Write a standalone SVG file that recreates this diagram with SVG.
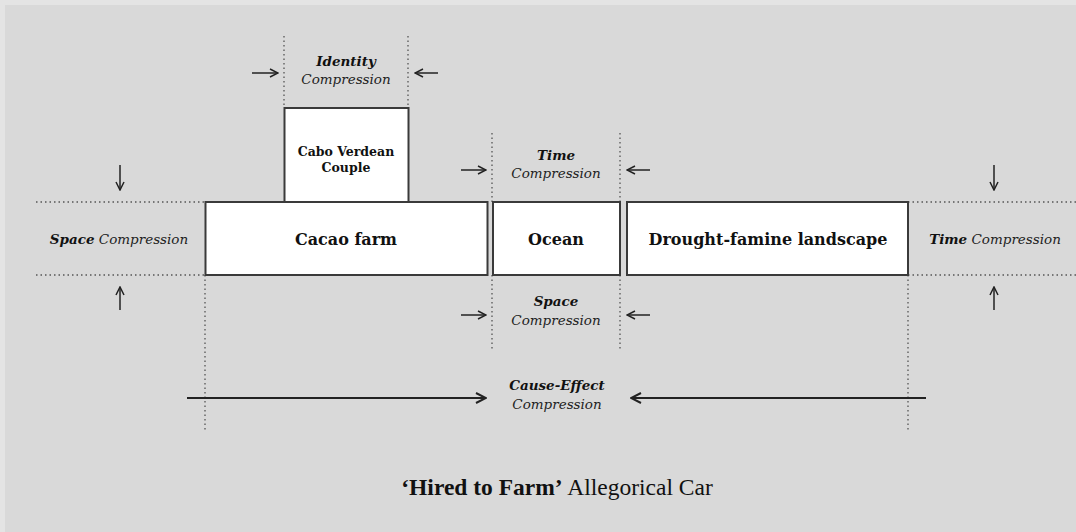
<svg xmlns="http://www.w3.org/2000/svg" width="1076" height="532" viewBox="0 0 1076 532">
<defs>
<style>
.box{fill:#fff;stroke:#3a3a3a;stroke-width:2}
.dot{fill:none;stroke:#555;stroke-width:1.3;stroke-dasharray:1.5 3}
.arr{fill:none;stroke:#222;stroke-width:1.5}
.lbl{font-family:"DejaVu Serif","Liberation Serif",serif;font-weight:bold;fill:#111;text-anchor:middle}
.bi{font-family:"DejaVu Serif","Liberation Serif",serif;font-weight:bold;font-style:italic;fill:#111}
.it{font-family:"DejaVu Serif","Liberation Serif",serif;font-style:italic;fill:#222}
.c{text-anchor:middle}
.title{font-family:"Liberation Serif",serif;font-size:23.5px;fill:#111;text-anchor:middle}
</style>
<marker id="ah" viewBox="0 0 10 10" refX="9" refY="5" markerWidth="10" markerHeight="10" markerUnits="userSpaceOnUse" orient="auto">
<path d="M1,1 L9,5 L1,9" fill="none" stroke="#222" stroke-width="1.5"/>
</marker>
<marker id="ahL" viewBox="0 0 12 12" refX="11" refY="6" markerWidth="12" markerHeight="12" markerUnits="userSpaceOnUse" orient="auto">
<path d="M1,1 L11,6 L1,11" fill="none" stroke="#222" stroke-width="2"/>
</marker>
</defs>
<rect x="0" y="0" width="1076" height="532" fill="#e4e4e4"/>
<rect x="5" y="5" width="1071" height="527" fill="#d9d9d9"/>

<g id="guides">
<line class="dot" x1="36" y1="202" x2="205" y2="202"/>
<line class="dot" x1="36" y1="275" x2="205" y2="275"/>
<line class="dot" x1="908" y1="202" x2="1076" y2="202"/>
<line class="dot" x1="908" y1="275" x2="1076" y2="275"/>
<line class="dot" x1="284" y1="36" x2="284" y2="108"/>
<line class="dot" x1="408" y1="36" x2="408" y2="108"/>
<line class="dot" x1="492" y1="133" x2="492" y2="202"/>
<line class="dot" x1="620" y1="133" x2="620" y2="202"/>
<line class="dot" x1="492" y1="275" x2="492" y2="350"/>
<line class="dot" x1="620" y1="275" x2="620" y2="350"/>
<line class="dot" x1="205" y1="275" x2="205" y2="430"/>
<line class="dot" x1="908" y1="275" x2="908" y2="430"/>
</g>

<g id="connectors">
<line class="arr" x1="252" y1="73" x2="278" y2="73" marker-end="url(#ah)"/>
<line class="arr" x1="438" y1="73" x2="415" y2="73" marker-end="url(#ah)"/>
<line class="arr" x1="461" y1="170" x2="486" y2="170" marker-end="url(#ah)"/>
<line class="arr" x1="650" y1="170" x2="627" y2="170" marker-end="url(#ah)"/>
<line class="arr" x1="461" y1="315" x2="486" y2="315" marker-end="url(#ah)"/>
<line class="arr" x1="650" y1="315" x2="627" y2="315" marker-end="url(#ah)"/>
<line class="arr" x1="120" y1="165" x2="120" y2="190" marker-end="url(#ah)"/>
<line class="arr" x1="120" y1="310" x2="120" y2="287" marker-end="url(#ah)"/>
<line class="arr" x1="994" y1="165" x2="994" y2="190" marker-end="url(#ah)"/>
<line class="arr" x1="994" y1="310" x2="994" y2="287" marker-end="url(#ah)"/>
<line class="arr" style="stroke-width:2" x1="187" y1="398" x2="486" y2="398" marker-end="url(#ahL)"/>
<line class="arr" style="stroke-width:2" x1="926" y1="398" x2="631" y2="398" marker-end="url(#ahL)"/>
</g>

<g id="cabo">
<rect class="box" x="284.5" y="108" width="124" height="94"/>
<text class="lbl" font-size="12.5" x="346" y="156">Cabo Verdean</text>
<text class="lbl" font-size="12.5" x="346" y="172">Couple</text>
</g>
<g id="cacao">
<rect class="box" x="205.5" y="202" width="282" height="73"/>
<text class="lbl" font-size="16" x="346" y="245">Cacao farm</text>
</g>
<g id="ocean">
<rect class="box" x="493" y="202" width="127" height="73"/>
<text class="lbl" font-size="16" x="556" y="245">Ocean</text>
</g>
<g id="drought">
<rect class="box" x="627" y="202" width="281" height="73"/>
<text class="lbl" font-size="16" x="768" y="245">Drought-famine landscape</text>
</g>

<g id="identity-label">
<text class="bi c" font-size="13.5" x="346" y="66">Identity</text>
<text class="it c" font-size="13.5" x="346" y="84">Compression</text>
</g>
<g id="time-top-label">
<text class="bi c" font-size="13.5" x="556" y="160">Time</text>
<text class="it c" font-size="13.5" x="556" y="178">Compression</text>
</g>
<g id="space-bottom-label">
<text class="bi c" font-size="13.5" x="556" y="306">Space</text>
<text class="it c" font-size="13.5" x="556" y="325">Compression</text>
</g>
<g id="cause-label">
<text class="bi c" font-size="13.5" x="557" y="390">Cause-Effect</text>
<text class="it c" font-size="13.5" x="557" y="409">Compression</text>
</g>
<g id="space-left-label">
<text font-size="13.5" x="119" y="244" text-anchor="middle"><tspan class="bi">Space</tspan><tspan class="it"> Compression</tspan></text>
</g>
<g id="time-right-label">
<text font-size="13.5" x="995" y="244" text-anchor="middle"><tspan class="bi">Time</tspan><tspan class="it"> Compression</tspan></text>
</g>
<g id="title">
<text class="title" x="557" y="495"><tspan font-weight="bold">‘Hired to Farm’</tspan> Allegorical Car</text>
</g>
</svg>
